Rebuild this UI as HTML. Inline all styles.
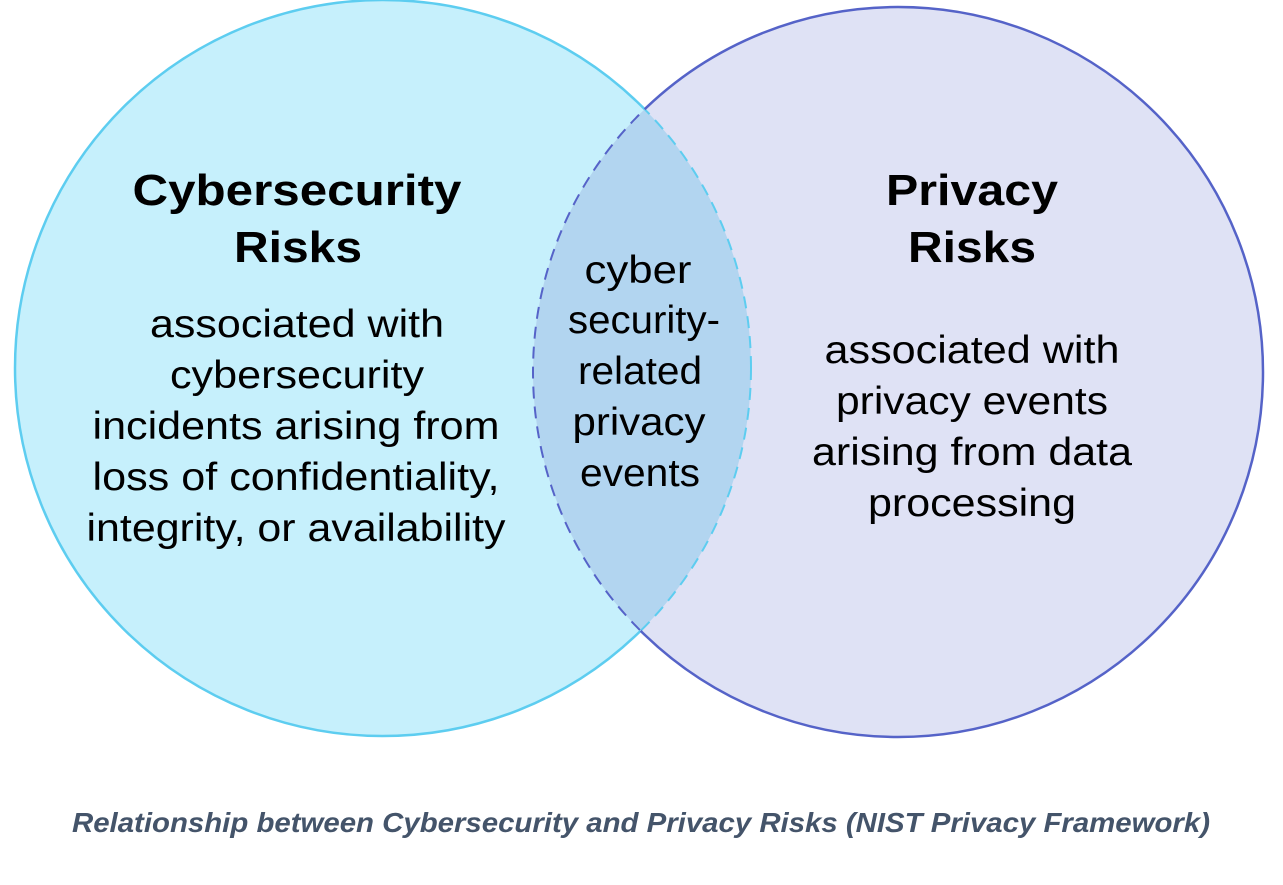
<!DOCTYPE html>
<html><head><meta charset="utf-8"><style>html,body{margin:0;padding:0;background:#fff}</style></head>
<body>
<svg width="1283" height="880" viewBox="0 0 1283 880" xmlns="http://www.w3.org/2000/svg">
<defs>
<clipPath id="cl"><circle cx="383" cy="368" r="368"/></clipPath>
<clipPath id="cr"><circle cx="898" cy="372" r="365"/></clipPath>
<clipPath id="outL"><path d="M0 0H1283V880H0Z M1263 372a365 365 0 1 0 -730 0a365 365 0 1 0 730 0Z" clip-rule="evenodd"/></clipPath>
<clipPath id="outR"><path d="M0 0H1283V880H0Z M751 368a368 368 0 1 0 -736 0a368 368 0 1 0 736 0Z" clip-rule="evenodd"/></clipPath>
</defs>
<circle cx="383" cy="368" r="368" fill="#c6f0fc"/>
<circle cx="898" cy="372" r="365" fill="#dfe2f5"/>
<circle cx="898" cy="372" r="365" fill="#b2d5f0" clip-path="url(#cl)"/>
<g clip-path="url(#cr)">
<circle cx="383" cy="368" r="368" fill="none" stroke="#5dcdf0" stroke-width="2" stroke-dasharray="12 8"/>
</g>
<g clip-path="url(#cl)">
<circle cx="898" cy="372" r="365" fill="none" stroke="#5563c8" stroke-width="2" stroke-dasharray="12 8"/>
</g>
<circle cx="383" cy="368" r="368" fill="none" stroke="#5dcdf0" stroke-width="2.5" clip-path="url(#outL)"/>
<circle cx="898" cy="372" r="365" fill="none" stroke="#5563c8" stroke-width="2.5" clip-path="url(#outR)"/>
<g font-family="Liberation Sans, sans-serif" fill="#000" text-anchor="middle" lengthAdjust="spacingAndGlyphs">
<g font-weight="bold" font-size="44">
<text x="297" y="205" textLength="329" lengthAdjust="spacingAndGlyphs">Cybersecurity</text>
<text x="298" y="262" textLength="128" lengthAdjust="spacingAndGlyphs">Risks</text>
<text x="972" y="205" textLength="172" lengthAdjust="spacingAndGlyphs">Privacy</text>
<text x="972" y="262" textLength="128" lengthAdjust="spacingAndGlyphs">Risks</text>
</g>
<g font-size="39">
<text x="297" y="337" textLength="294" lengthAdjust="spacingAndGlyphs">associated with</text>
<text x="297" y="388" textLength="254" lengthAdjust="spacingAndGlyphs">cybersecurity</text>
<text x="296" y="439" textLength="407" lengthAdjust="spacingAndGlyphs">incidents arising from</text>
<text x="296" y="490" textLength="407" lengthAdjust="spacingAndGlyphs">loss of confidentiality,</text>
<text x="296" y="541" textLength="419" lengthAdjust="spacingAndGlyphs">integrity, or availability</text>
<text x="638" y="283" textLength="107" lengthAdjust="spacingAndGlyphs">cyber</text>
<text x="644" y="333" textLength="152" lengthAdjust="spacingAndGlyphs">security-</text>
<text x="640" y="384" textLength="124" lengthAdjust="spacingAndGlyphs">related</text>
<text x="639" y="435" textLength="133" lengthAdjust="spacingAndGlyphs">privacy</text>
<text x="640" y="486" textLength="120" lengthAdjust="spacingAndGlyphs">events</text>
<text x="972" y="363" textLength="295" lengthAdjust="spacingAndGlyphs">associated with</text>
<text x="972" y="414" textLength="272" lengthAdjust="spacingAndGlyphs">privacy events</text>
<text x="972" y="465" textLength="320" lengthAdjust="spacingAndGlyphs">arising from data</text>
<text x="972" y="516" textLength="208" lengthAdjust="spacingAndGlyphs">processing</text>
</g>
<text x="641" y="832" font-size="28" font-weight="bold" font-style="italic" fill="#44546a" textLength="1138" lengthAdjust="spacingAndGlyphs">Relationship between Cybersecurity and Privacy Risks (NIST Privacy Framework)</text>
</g>
</svg>
</body></html>
